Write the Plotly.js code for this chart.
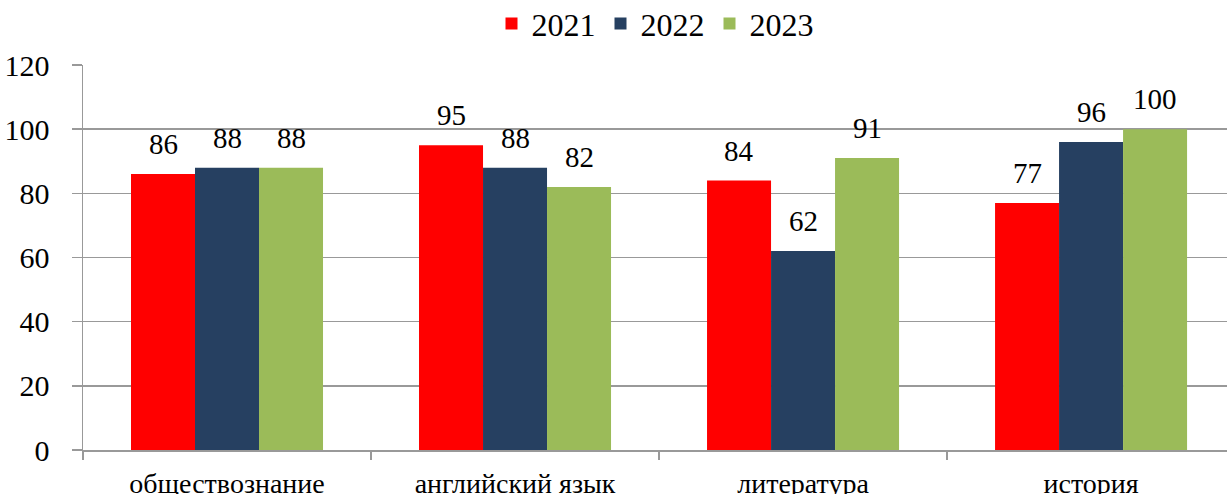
<!DOCTYPE html>
<html><head><meta charset="utf-8">
<script src="https://cdn.plot.ly/plotly-3.0.1.min.js"></script>
<style>html,body{margin:0;padding:0;background:#fff}#c{width:1227px;height:494px}</style>
</head><body><div id="c"></div>
<script>
const categories = ["обществознание", "английский язык", "литература", "история"];
const years = ["2021", "2022", "2023"];
const v2021 = [86, 95, 84, 77];
const v2022 = [88, 88, 62, 96];
const v2023 = [88, 82, 91, 100];
const yTicks = [0, 20, 40, 60, 80, 100, 120];
const colors = ["#FF0000", "#264061", "#9BBB59"];
const series = [v2021, v2022, v2023];
const font = "Liberation Serif";
const data = series.map((vals, i) => ({
  type: "bar", name: years[i], x: categories, y: vals,
  marker: {color: colors[i]}
}));
const shifts = [-64, 0, 64];
const annotations = [];
series.forEach((vals, i) => vals.forEach((v, j) => annotations.push({
  x: categories[j], y: v, xref: "x", yref: "y", text: String(v), showarrow: false,
  xshift: shifts[i], yshift: 12, yanchor: "bottom", xanchor: "center",
  font: {family: font, size: 29, color: "#000"}
})));
const layout = {
  width: 1227, height: 494,
  margin: {l: 83, r: 0, t: 65, b: 44, autoexpand: false},
  paper_bgcolor: "#fff", plot_bgcolor: "#fff",
  font: {family: font, color: "#000"},
  barmode: "group", bargap: 0.3333, bargroupgap: 0,
  showlegend: true,
  legend: {orientation: "h", x: 0.5, xanchor: "center", y: 1.107, yanchor: "middle",
    font: {family: font, size: 32}, itemwidth: 30, traceorder: "normal"},
  annotations: annotations,
  xaxis: {range: [-0.5, 3.472], tickson: "boundaries", ticks: "outside", ticklen: 8,
    tickcolor: "#999", tickwidth: 1.5, showline: true, linecolor: "#999", linewidth: 1.5,
    showgrid: false, tickfont: {family: font, size: 28}, ticklabelstandoff: 8, fixedrange: true,
    automargin: false},
  yaxis: {range: [0, 120], tickvals: yTicks, ticktext: yTicks.map(String), ticks: "outside",
    ticklen: 10, tickcolor: "#999", tickwidth: 1.5, showline: true, linecolor: "#999", linewidth: 1.5,
    showgrid: true, gridcolor: "#999", gridwidth: 1.5, zeroline: false, automargin: false,
    tickfont: {family: font, size: 30}, ticklabelstandoff: 16}
};
Plotly.newPlot("c", data, layout, {displayModeBar: false, staticPlot: true});
</script></body></html>
